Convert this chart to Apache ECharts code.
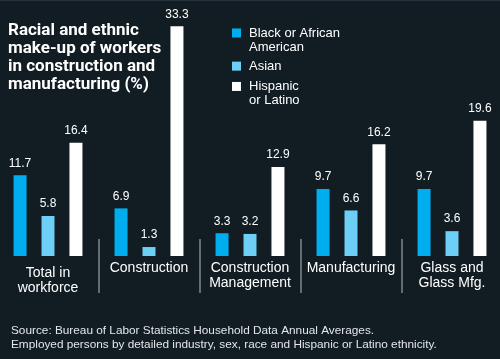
<!DOCTYPE html>
<html>
<head>
<meta charset="utf-8">
<script src="https://cdn.jsdelivr.net/npm/echarts@6/dist/echarts.min.js"></script>
<style>
html,body{margin:0;padding:0;background:#121c23;}
#chart{width:500px;height:359px;}
</style>
</head>
<body>
<div id="chart"></div>
<script>
const categories = ['Total in\nworkforce', 'Construction', 'Construction\nManagement', 'Manufacturing', 'Glass and\nGlass Mfg.'];
const seriesNames = ['Black or African American', 'Asian', 'Hispanic or Latino'];
const legendLabels = ['\nBlack or African\nAmerican', 'Asian', '\nHispanic\nor Latino'];
const black = [11.7, 6.9, 3.3, 9.7, 9.7];
const asian = [5.8, 1.3, 3.2, 6.6, 3.6];
const hispanic = [16.4, 33.3, 12.9, 16.2, 19.6];
const colors = ['#00aeef', '#6dcff6', '#ffffff'];

const FONT = '"Liberation Sans", Arial, Helvetica, sans-serif';
const chart = echarts.init(document.getElementById('chart'), null, {renderer: 'canvas'});

const catData = categories.map((c, i) => i === 0 ? {value: c, textStyle: {padding: [5, 0, 0, 0]}} : c);
const values = [black, asian, hispanic];
const legendTops = [11.5, 59, 65];

const option = {
  backgroundColor: '#121c23',
  animation: false,
  graphic: [{type: 'rect', left: 0, top: 0, shape: {width: 500, height: 1}, style: {fill: '#26323b'}, silent: true}],
  title: [
    {
      text: 'Racial and ethnic\nmake-up of workers\nin construction and\nmanufacturing (%)',
      left: 8, top: 22, padding: 0,
      textStyle: {color: '#ffffff', fontFamily: 'Roboto, "Liberation Sans", sans-serif', fontWeight: 'bold', fontSize: 17, lineHeight: 18}
    },
    {
      text: 'Source: Bureau of Labor Statistics Household Data Annual Averages.\nEmployed persons by detailed industry, sex, race and Hispanic or Latino ethnicity.',
      left: 11, top: 324, padding: 0,
      textStyle: {color: '#e4e6e8', fontFamily: FONT, fontWeight: 'normal', fontSize: 11.8, lineHeight: 14}
    }
  ],
  legend: seriesNames.map((n, i) => ({
    data: [n],
    orient: 'vertical',
    left: 232, top: legendTops[i], padding: 0,
    itemWidth: 9, itemHeight: 9, icon: 'rect',
    selectedMode: false,
    formatter: () => legendLabels[i],
    textStyle: {color: '#ffffff', fontFamily: FONT, fontSize: 13, lineHeight: 14.3, padding: [0, 0, 0, 3]}
  })),
  grid: {left: -2.5, right: -2.5, top: 14.5, bottom: 103, containLabel: false, outerBoundsMode: 'none'},
  xAxis: {
    type: 'category',
    data: catData,
    offset: -17,
    axisLine: {show: false, onZero: false},
    axisTick: {show: true, length: 54, lineStyle: {color: '#646c72', width: 2}},
    axisLabel: {color: '#ffffff', fontFamily: FONT, fontSize: 14, lineHeight: 15, margin: 22, interval: 0}
  },
  yAxis: {type: 'value', min: 0, max: 35, show: false, splitLine: {show: false}},
  series: seriesNames.map((n, i) => ({
    name: n,
    type: 'bar',
    data: values[i],
    barWidth: 13,
    barGap: '115%',
    itemStyle: {color: colors[i]},
    label: {show: true, position: 'top', distance: 6, color: '#ffffff', fontFamily: FONT, fontSize: 12}
  }))
};
chart.setOption(option);
</script>
</body>
</html>
